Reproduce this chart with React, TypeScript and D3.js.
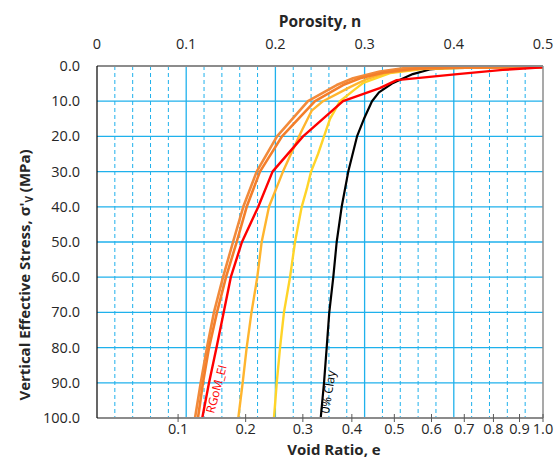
import React from "react";
import * as d3 from "d3";

// ---------- data (porosity n vs vertical effective stress, MPa) ----------
const blackStress = [0.3, 0.6, 1, 2.3, 5, 7.5, 10, 15, 20, 30, 40, 50, 60, 70, 80, 90, 100];
const blackN = [0.5, 0.39, 0.373, 0.354, 0.3307, 0.3161, 0.3083, 0.2993, 0.2915, 0.2817, 0.2743, 0.2687, 0.2649, 0.2604, 0.2575, 0.2545, 0.2508];

const yellowStress = [0.3, 0.5, 0.8, 2, 4.8, 7, 10, 15, 20, 25, 30, 35, 40, 50, 60, 70, 80, 90, 100];
const yellowN = [0.5, 0.4126, 0.3677, 0.3285, 0.2985, 0.2873, 0.2724, 0.2612, 0.2545, 0.2478, 0.24, 0.2351, 0.2295, 0.222, 0.2164, 0.2096, 0.2052, 0.2015, 0.1984];

const goldStress = [0.3, 0.5, 0.8, 2, 3.7, 6, 10, 12.7, 18.4, 24.5, 30, 40, 50, 60, 70, 80, 90, 100];
const goldN = [0.5, 0.407, 0.362, 0.323, 0.3024, 0.2836, 0.2534, 0.2407, 0.2295, 0.2183, 0.2085, 0.1928, 0.1846, 0.1797, 0.1732, 0.1678, 0.1633, 0.1584];

const orange1Stress = [0.3, 0.4, 0.65, 1.6, 3.5, 5.4, 10, 20, 30, 40, 50, 60, 70, 80, 90, 100];
const orange1N = [0.5, 0.3957, 0.343, 0.317, 0.287, 0.2687, 0.2365, 0.2018, 0.179, 0.164, 0.1525, 0.1413, 0.1311, 0.1233, 0.1163, 0.1099];

const orange2Stress = [0.3, 0.5, 0.8, 1.8, 3.5, 5.4, 10, 20, 30, 40, 50, 60, 70, 80, 90, 100];
const orange2N = [0.5, 0.401, 0.3565, 0.323, 0.295, 0.2758, 0.2444, 0.2074, 0.1827, 0.1678, 0.1566, 0.1446, 0.1345, 0.1256, 0.1188, 0.1132];

const redStress = [0.4, 1.1, 2.3, 4, 6.3, 10, 20, 30, 40, 50, 60, 70, 80, 90, 100];
const redN = [0.5, 0.455, 0.404, 0.336, 0.317, 0.2758, 0.231, 0.1968, 0.1808, 0.1625, 0.15, 0.142, 0.134, 0.1256, 0.118];

const porosityTicks = [0, 0.1, 0.2, 0.3, 0.4, 0.5];
const porosityLabels = ["0", "0.1", "0.2", "0.3", "0.4", "0.5"];
const voidRatioTicks = [0.1, 0.2, 0.3, 0.4, 0.5, 0.6, 0.7, 0.8, 0.9, 1.0];
const voidRatioLabels = ["0.1", "0.2", "0.3", "0.4", "0.5", "0.6", "0.7", "0.8", "0.9", "1.0"];
const stressTicks = [0, 10, 20, 30, 40, 50, 60, 70, 80, 90, 100];

const series = [
  { name: "0% Clay", stress: blackStress, n: blackN, color: "#000000", width: 2.2 },
  { name: "Y", stress: yellowStress, n: yellowN, color: "#FFD428", width: 2.4 },
  { name: "G", stress: goldStress, n: goldN, color: "#FFB52E", width: 2.4 },
  { name: "O1", stress: orange1Stress, n: orange1N, color: "#F28A3A", width: 2.6 },
  { name: "O2", stress: orange2Stress, n: orange2N, color: "#F47E2A", width: 2.6 },
  { name: "RGoM_EI", stress: redStress, n: redN, color: "#FF0000", width: 2.4 },
];

const W = 557;
const H = 459;
const L = 97, R = 543, T = 66, B = 418;
const FONT = "'Open Sans', 'DejaVu Sans', sans-serif";
const GRID = "#1FB1EC";

export default function App() {
  const x = d3.scaleLinear().domain([0, 0.5]).range([L, R]);
  const y = d3.scaleLinear().domain([0, 100]).range([T, B]);

  const minor = d3.range(1, 25).map((i) => i * 0.02).filter((v) => Math.abs(v * 10 - Math.round(v * 10)) > 1e-6);
  const major = [0.1, 0.2, 0.3, 0.4];

  const line = d3
    .line<[number, number]>()
    .x((d) => x(d[0]))
    .y((d) => y(d[1]))
    .curve(d3.curveLinear);

  return (
    <svg
      width={W}
      height={H}
      style={{ position: "absolute", left: 0, top: 0, background: "#fff" }}
      fontFamily={FONT}
    >
      <rect x={0} y={0} width={W} height={H} fill="#fff" />
      {/* grid */}
      {minor.map((v) => (
        <line key={"m" + v} x1={x(v)} x2={x(v)} y1={T} y2={B} stroke={GRID} strokeWidth={1} strokeDasharray="4 3" />
      ))}
      {major.map((v) => (
        <line key={"M" + v} x1={x(v)} x2={x(v)} y1={T} y2={B} stroke={GRID} strokeWidth={1.3} />
      ))}
      {stressTicks.slice(1, -1).map((v) => (
        <line key={"h" + v} x1={L} x2={R} y1={y(v)} y2={y(v)} stroke={GRID} strokeWidth={1.3} />
      ))}

      {/* curves */}
      {series.map((s) => (
        <path
          key={s.name}
          d={line(s.n.map((nv, i) => [nv, s.stress[i]] as [number, number])) || ""}
          fill="none"
          stroke={s.color}
          strokeWidth={s.width}
          strokeLinejoin="round"
        />
      ))}

      {/* borders */}
      <line x1={L} x2={R} y1={T} y2={T} stroke="#8C8C8C" strokeWidth={2} />
      <line x1={R} x2={R} y1={T} y2={B} stroke="#8C8C8C" strokeWidth={1.5} />
      <line x1={L} x2={R} y1={B} y2={B} stroke="#8C8C8C" strokeWidth={2} />
      <line x1={L} x2={L} y1={T} y2={B} stroke="#000" strokeWidth={1.2} />

      {/* bottom void-ratio ticks */}
      {voidRatioTicks.map((e) => (
        <line key={"bt" + e} x1={x(e / (1 + e))} x2={x(e / (1 + e))} y1={414} y2={422} stroke="#595959" strokeWidth={1} />
      ))}
      {voidRatioTicks.map((e, i) => (
        <text key={"bl" + e} x={x(e / (1 + e))} y={434} fontSize={14.5} textAnchor="middle" fill="#262626">
          {voidRatioLabels[i]}
        </text>
      ))}

      {/* top porosity labels */}
      {porosityTicks.map((v, i) => (
        <text key={"tl" + v} x={x(v)} y={49} fontSize={14.5} textAnchor="middle" fill="#262626">
          {porosityLabels[i]}
        </text>
      ))}

      {/* left stress labels */}
      {stressTicks.map((v) => (
        <text key={"ll" + v} x={80} y={y(v) + 5} fontSize={14.5} textAnchor="end" fill="#262626">
          {v.toFixed(1)}
        </text>
      ))}

      {/* titles */}
      <text x={320} y={27} fontSize={15.5} fontWeight="bold" textAnchor="middle" fill="#262626">
        Porosity, n
      </text>
      <text x={334} y={454.5} fontSize={15} fontWeight="bold" textAnchor="middle" fill="#262626">
        Void Ratio, e
      </text>
      <text
        transform="translate(30,275) rotate(-90)"
        fontSize={15}
        fontWeight="bold"
        textAnchor="middle"
        fill="#262626"
      >
        Vertical Effective Stress, σ'
        <tspan fontSize={10} dy={3}>V</tspan>
        <tspan dy={-3}> (MPa)</tspan>
      </text>

      {/* series labels */}
      <text transform="translate(214,414) rotate(-75)" fontSize={12} fill="#FF0000">
        RGoM_EI
      </text>
      <text transform="translate(329,414) rotate(-81)" fontSize={12} fill="#000">
        0% Clay
      </text>
    </svg>
  );
}
